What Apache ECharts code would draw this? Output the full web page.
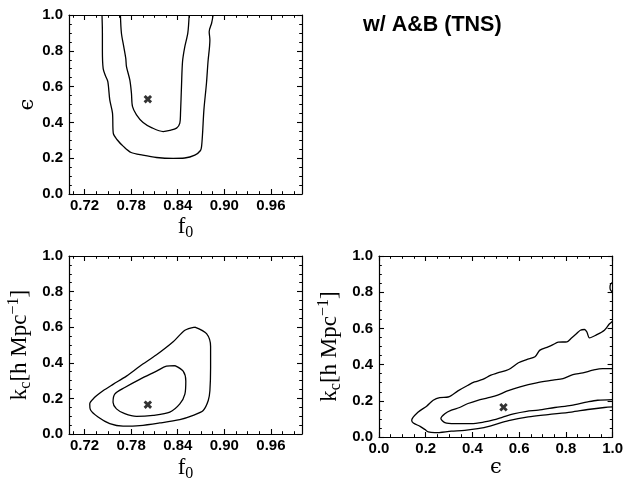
<!DOCTYPE html>
<html>
<head>
<meta charset="utf-8">
<script src="https://cdn.jsdelivr.net/npm/echarts@6/dist/echarts.min.js"></script>
<style>
  html, body { margin: 0; padding: 0; background: #fff; }
  #chart { width: 626px; height: 483px; }
</style>
</head>
<body>
<div id="chart"></div>
<script>
// ---- tick positions ----
const f0Ticks = [0.72, 0.78, 0.84, 0.90, 0.96];
const unitTicks = [0.0, 0.2, 0.4, 0.6, 0.8, 1.0];

// ---- confidence contours: f0 vs epsilon ----
const f0EpsOuter = [
  [0.7425, 1.0], [0.743, 0.90], [0.743, 0.80], [0.744, 0.70], [0.747, 0.660], [0.750, 0.628],
  [0.7525, 0.526], [0.756, 0.452], [0.757, 0.340], [0.762, 0.303], [0.770, 0.266], [0.780, 0.232],
  [0.795, 0.217], [0.8127, 0.204], [0.834, 0.199], [0.849, 0.201], [0.862, 0.217], [0.8693, 0.243],
  [0.8707, 0.266], [0.872, 0.340], [0.8737, 0.470], [0.877, 0.619], [0.879, 0.740], [0.8814, 0.861],
  [0.8805, 0.907], [0.8836, 0.954], [0.8856, 1.0]
];
const f0EpsInner = [
  [0.7662, 1.0], [0.7675, 0.898], [0.7705, 0.823], [0.7731, 0.758], [0.774, 0.712], [0.7783, 0.637],
  [0.7804, 0.563], [0.7817, 0.489], [0.7869, 0.442], [0.7954, 0.399], [0.8062, 0.371], [0.8212, 0.349],
  [0.8298, 0.355], [0.8385, 0.368], [0.8427, 0.396], [0.8436, 0.452], [0.8449, 0.610], [0.8462, 0.740],
  [0.849, 0.820], [0.853, 0.900], [0.8547, 1.0]
];
const f0EpsBest = [[0.8015, 0.53]];

// ---- confidence contours: f0 vs kc ----
const f0KcOuter = [
  [0.862, 0.601], [0.8771, 0.564], [0.8823, 0.491], [0.8823, 0.371], [0.8814, 0.243], [0.8793, 0.188],
  [0.8728, 0.132], [0.8599, 0.105], [0.8427, 0.081], [0.8169, 0.062], [0.7911, 0.047], [0.7696, 0.044],
  [0.7525, 0.058], [0.7374, 0.095], [0.7276, 0.136], [0.7267, 0.169], [0.7331, 0.206], [0.7438, 0.243],
  [0.7567, 0.279], [0.774, 0.325], [0.7911, 0.381], [0.8127, 0.445], [0.8341, 0.518], [0.8492, 0.583],
  [0.862, 0.601]
];
const f0KcInner = [
  [0.8363, 0.384], [0.847, 0.353], [0.8504, 0.298], [0.8492, 0.224], [0.8427, 0.169], [0.8298, 0.123],
  [0.8083, 0.105], [0.7869, 0.099], [0.7718, 0.114], [0.7611, 0.141], [0.7567, 0.178], [0.7589, 0.224],
  [0.7718, 0.261], [0.7911, 0.307], [0.8127, 0.353], [0.8255, 0.381], [0.8363, 0.384]
];
const f0KcBest = [[0.8015, 0.165]];

// ---- confidence contours: epsilon vs kc ----
const epsKcOuter = [
  [1.0, 0.640], [0.986, 0.624], [0.965, 0.590], [0.929, 0.563], [0.901, 0.548], [0.890, 0.580],
  [0.880, 0.594], [0.862, 0.590], [0.845, 0.570], [0.823, 0.545], [0.805, 0.526], [0.767, 0.524],
  [0.745, 0.510], [0.724, 0.498], [0.689, 0.480], [0.668, 0.443], [0.632, 0.428], [0.597, 0.410],
  [0.555, 0.373], [0.508, 0.354], [0.479, 0.342], [0.444, 0.318], [0.409, 0.304], [0.381, 0.286],
  [0.338, 0.255], [0.296, 0.221], [0.260, 0.218], [0.232, 0.203], [0.204, 0.170], [0.168, 0.138],
  [0.140, 0.092], [0.147, 0.077], [0.176, 0.059], [0.197, 0.041], [0.211, 0.028], [0.239, 0.024],
  [0.310, 0.032], [0.367, 0.037], [0.423, 0.046], [0.479, 0.062], [0.555, 0.090], [0.639, 0.111],
  [0.724, 0.124], [0.823, 0.138], [0.894, 0.152], [0.965, 0.163], [1.0, 0.166]
];
const epsKcInner = [
  [1.0, 0.378], [0.958, 0.378], [0.915, 0.369], [0.873, 0.354], [0.830, 0.345], [0.788, 0.323],
  [0.745, 0.314], [0.675, 0.299], [0.604, 0.277], [0.547, 0.253], [0.508, 0.231], [0.465, 0.216],
  [0.423, 0.203], [0.381, 0.185], [0.345, 0.163], [0.310, 0.148], [0.282, 0.129], [0.265, 0.102],
  [0.282, 0.080], [0.324, 0.074], [0.395, 0.074], [0.451, 0.083], [0.490, 0.094], [0.530, 0.110],
  [0.576, 0.128], [0.632, 0.142], [0.682, 0.148], [0.753, 0.163], [0.823, 0.175], [0.894, 0.194],
  [0.936, 0.203], [1.0, 0.207]
];
const epsKcEdge = [[1.0, 0.855], [0.992, 0.845], [0.989, 0.828], [0.991, 0.812], [1.0, 0.800]];
const epsKcBest = [[0.533, 0.164]];

// ---- styling ----
const INK = '#000';
const SANS = 'Liberation Sans, Arial, sans-serif';
const SERIF = 'Liberation Serif, DejaVu Serif, serif';

function minorSteps(min, max, step) {
  const out = [];
  const n = Math.round((max - min) / step);
  for (let i = 0; i <= n; i++) out.push(+(min + i * step).toFixed(4));
  return out;
}

// mirrored axes on both sides: one carrying the line and major ticks, one the minor ticks
function axisGroup(kind, grid, min, max, majors, minors, digits, nameCfg) {
  const sides = kind === 'x' ? ['bottom', 'top'] : ['left', 'right'];
  const axes = [];
  sides.forEach((side, i) => {
    const major = {
      type: 'value', gridIndex: grid, position: side, min, max,
      axisLine: { show: true, onZero: false, lineStyle: { color: INK, width: 1.2 } },
      axisTick: { show: true, inside: true, length: 5, customValues: majors, lineStyle: { color: INK, width: 1.1 } },
      axisLabel: {
        show: i === 0, customValues: majors, color: INK, fontFamily: SANS, fontWeight: 'bold',
        fontSize: 15, margin: kind === 'x' ? 4 : 6,
        formatter: v => Number(v).toFixed(digits)
      },
      splitLine: { show: false }
    };
    if (i === 0 && nameCfg) Object.assign(major, nameCfg);
    axes.push(major);
    axes.push({
      type: 'value', gridIndex: grid, position: side, min, max,
      axisLine: { show: false, onZero: false },
      axisTick: { show: true, inside: true, length: 2.8, customValues: minors, lineStyle: { color: INK, width: 1 } },
      axisLabel: { show: false },
      splitLine: { show: false }
    });
  });
  return axes;
}

function nameStyle(extra) {
  return Object.assign({
    nameLocation: 'middle',
    nameTextStyle: {
      color: INK, fontFamily: SERIF, fontSize: 23,
      rich: {
        sub: { fontFamily: SERIF, fontSize: 16, color: INK, padding: [13, 0, 0, 0] },
        sup: { fontFamily: SERIF, fontSize: 16, color: INK, padding: [0, 0, 11, 0] },
        eps: { fontFamily: 'DejaVu Serif, serif', fontSize: 21, color: INK }
      }
    }
  }, extra);
}

const f0Minor = minorSteps(0.705, 0.99, 0.015);
const unitMinor = minorSteps(0.0, 1.0, 0.05);

const xAxes = [].concat(
  axisGroup('x', 0, 0.70, 1.00, f0Ticks, f0Minor, 2, nameStyle({ name: 'f{sub|0}', nameGap: 18 })),
  axisGroup('x', 1, 0.70, 1.00, f0Ticks, f0Minor, 2, nameStyle({ name: 'f{sub|0}', nameGap: 19 })),
  axisGroup('x', 2, 0.0, 1.0, unitTicks, unitMinor, 1, nameStyle({ name: '{eps|ϵ}', nameGap: 18 }))
);
const yAxes = [].concat(
  axisGroup('y', 0, 0.0, 1.0, unitTicks, unitMinor, 1, nameStyle({ name: '{eps|ϵ}', nameGap: 30, nameRotate: 90 })),
  axisGroup('y', 1, 0.0, 1.0, unitTicks, unitMinor, 1, nameStyle({ name: 'k{sub|c}[h Mpc{sup|−1}]', nameGap: 35, nameRotate: 90 })),
  axisGroup('y', 2, 0.0, 1.0, unitTicks, unitMinor, 1, nameStyle({ name: 'k{sub|c}[h Mpc{sup|−1}]', nameGap: 35, nameRotate: 90 }))
);

const CROSS = 'path://M0,2.4L2.4,0L5,2.6L7.6,0L10,2.4L7.4,5L10,7.6L7.6,10L5,7.4L2.4,10L0,7.6L2.6,5Z';

function contour(grid, data) {
  return {
    type: 'line', xAxisIndex: grid * 4, yAxisIndex: grid * 4, data,
    showSymbol: false, smooth: 0.3, silent: true,
    lineStyle: { color: INK, width: 1.3 }
  };
}
function best(grid, data) {
  return {
    type: 'scatter', xAxisIndex: grid * 4, yAxisIndex: grid * 4, data,
    symbol: CROSS, symbolSize: 8.5, silent: true, itemStyle: { color: INK }
  };
}

const chart = echarts.init(document.getElementById('chart'), null, { renderer: 'canvas' });
chart.setOption({
  animation: false,
  backgroundColor: '#fff',
  title: {
    text: 'w/ A&B (TNS)', left: 358, top: 9,
    textStyle: { fontFamily: SANS, fontWeight: 'bold', fontSize: 21.5, color: INK }
  },
  grid: [
    { left: 69, top: 15, width: 233, height: 179 },
    { left: 69, top: 256, width: 233, height: 181 },
    { left: 379, top: 256, width: 236, height: 181 }
  ],
  xAxis: xAxes,
  yAxis: yAxes,
  series: [
    contour(0, f0EpsOuter), contour(0, f0EpsInner), best(0, f0EpsBest),
    contour(1, f0KcOuter), contour(1, f0KcInner), best(1, f0KcBest),
    contour(2, epsKcOuter), contour(2, epsKcInner), contour(2, epsKcEdge), best(2, epsKcBest)
  ]
});
</script>
</body>
</html>
